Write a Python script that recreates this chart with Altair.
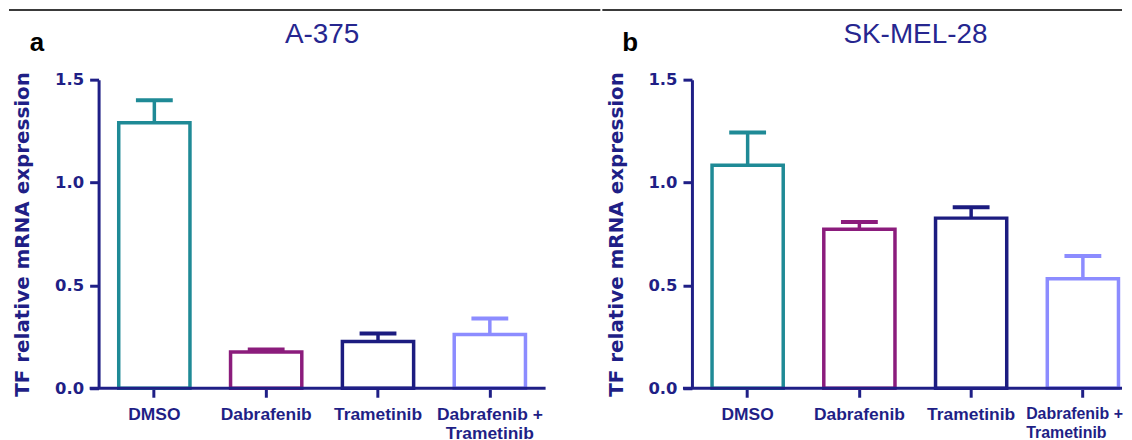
import altair as alt
import pandas as pd

categories = ["DMSO", "Dabrafenib", "Trametinib", "Dabrafenib + Trametinib"]
colors = ["#1f8a96", "#8b1c7c", "#1c1c80", "#8c8cff"]

a_title = "A-375"
a_mean = [1.29, 0.176, 0.227, 0.261]
a_sem = [0.11, 0.013, 0.039, 0.078]

b_title = "SK-MEL-28"
b_mean = [1.084, 0.773, 0.827, 0.532]
b_sem = [0.159, 0.035, 0.053, 0.111]

y_ticks = [0.0, 0.5, 1.0, 1.5]
y_title = "TF relative mRNA expression"

NAVY = "#1f1f86"
H = 310
LAST = "Dabrafenib + Trametinib"
SPLIT = "datum.label == 'Dabrafenib + Trametinib' ? ['Dabrafenib +', 'Trametinib'] : datum.label"


def panel(title, letter, means, sems, width, pad_outer, align, border_x2, cut_last):
    df = pd.DataFrame({
        "treatment": categories,
        "mean": means,
        "upper": [m + s for m, s in zip(means, sems)],
    })
    axis_kw = dict(title=None, labelAngle=0, domain=False, labelOverlap=False, labelExpr=SPLIT)
    if cut_last:
        test = f"datum.value == '{LAST}'"
        axis_kw["labelAlign"] = {"condition": {"test": test, "value": "left"}, "value": "center"}
        axis_kw["labelOffset"] = {"condition": {"test": test, "value": -57}, "value": 0}
        axis_kw["labelFontSize"] = {"condition": {"test": test, "value": 16}, "value": 17.5}
    x = alt.X(
        "treatment:N",
        sort=categories,
        scale=alt.Scale(domain=categories, paddingInner=0.363, paddingOuter=pad_outer, align=align),
        axis=alt.Axis(**axis_kw),
    )
    y = alt.Y(
        "mean:Q",
        scale=alt.Scale(domain=[0, 1.5], nice=False),
        axis=alt.Axis(values=y_ticks, format=".1f", title=y_title, grid=False),
    )
    col = alt.Color("treatment:N", scale=alt.Scale(domain=categories, range=colors), legend=None)

    base = alt.Chart(df)
    bars = base.mark_bar(fill="white", strokeWidth=3.5).encode(x=x, y=y, stroke=col)
    stem = base.mark_rule(strokeWidth=3.5, opacity=1).encode(x=x, y="mean:Q", y2="upper:Q", color=col)
    cap = base.mark_tick(thickness=4, size=37, opacity=1).encode(x=x, y="upper:Q", color=col)
    xline = alt.Chart(pd.DataFrame({"z": [0]})).mark_rule(color=NAVY, strokeWidth=3).encode(
        x=alt.value(-9), x2=alt.value(width), y=alt.datum(0)
    )
    border = alt.Chart(pd.DataFrame({"z": [0]})).mark_rule(color="#3a3a3a", strokeWidth=2).encode(
        x=alt.value(-90), x2=alt.value(border_x2), y=alt.value(-70)
    )
    letter_txt = alt.Chart(pd.DataFrame({"letter": [letter]})).mark_text(
        font="Liberation Sans", fontSize=26, fontWeight="bold", color="black",
        align="center", baseline="alphabetic"
    ).encode(x=alt.value(-62), y=alt.value(-29), text="letter:N")
    title_txt = alt.Chart(pd.DataFrame({"title": [title]})).mark_text(
        font="Liberation Sans", fontSize=28, color="#26268f",
        align="center", baseline="alphabetic"
    ).encode(x=alt.value(224.5), y=alt.value(-37), text="title:N")

    return alt.layer(bars, stem, cap, xline, border, letter_txt, title_txt).properties(
        width=width, height=H
    )


pa = panel(a_title, "a", a_mean, a_sem, 449, 0.18, 0.5, 504, False)
pb = panel(b_title, "b", b_mean, b_sem, 432, 0.1058, 0.8505, 432, True)

chart = alt.hconcat(pa, pb, spacing=0).properties(padding=0, background="white").configure_view(
    stroke=None
).configure_axisX(
    labelFont="Liberation Sans", labelFontWeight="bold", labelFontSize=17.5, labelColor=NAVY,
    labelPadding=8, labelLineHeight=19, tickColor=NAVY, tickSize=9, tickWidth=3,
).configure_axisY(
    labelFont="DejaVu Sans", labelFontWeight="bold", labelFontSize=16.5, labelColor=NAVY,
    labelPadding=6, tickColor=NAVY, tickSize=9, tickWidth=3, domainColor=NAVY, domainWidth=3,
    titleFont="DejaVu Sans", titleFontWeight="bold", titleFontSize=20, titleColor=NAVY,
    titleX=-76, titleY=155, titleBaseline="middle", titleAlign="center", titleAngle=270,
)

chart.save("out.html", embed_options={"renderer": "svg", "actions": False})
